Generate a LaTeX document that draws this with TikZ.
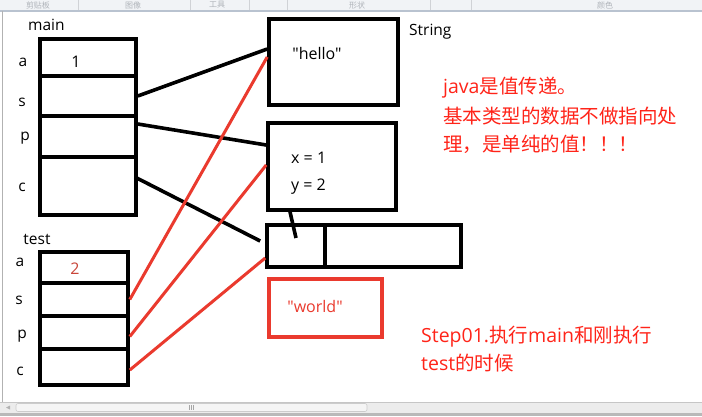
\documentclass[tikz,border=0pt]{standalone}
\usepackage{fontspec}
\setmainfont{Noto Sans CJK SC}
\newfontfamily\lat{Open Sans}
\usetikzlibrary{calc}
\definecolor{txtred}{HTML}{FF2419}
\definecolor{linered}{HTML}{EA3A2E}
\definecolor{numred}{HTML}{C9463A}
\definecolor{bandgray}{HTML}{F1F3F6}
\definecolor{bandline}{HTML}{B9C3D0}
\definecolor{faint}{HTML}{B0B4BA}
\begin{document}
\begin{tikzpicture}[x=1pt,y=-1pt,
  box/.style={draw=black,line width=3.6pt,rectangle,inner sep=0pt},
  redbox/.style={draw=linered,line width=3.4pt,rectangle,inner sep=0pt},
  blk/.style={draw=black,line width=3.6pt},
  redline/.style={draw=linered,line width=3pt},
  lbl/.style={inner sep=0pt,font=\lat\fontsize{15.5}{18}\selectfont},
  val/.style={inner sep=0pt,font=\lat\fontsize{16}{19}\selectfont},
  note/.style={inner sep=0pt,anchor=west,text=txtred,font=\fontsize{19.5}{22}\selectfont},
  tool/.style={inner sep=0pt,text=faint,font=\fontsize{8}{9}\selectfont}]
\useasboundingbox (0,0) rectangle (702,416);
\fill[white] (0,0) rectangle (702,416);
% window chrome
\fill[bandgray] (0,0) rectangle (702,10.5);
\draw[bandline,line width=1.2pt] (0,11) -- (702,11);
\begin{scope}
\clip (0,0) rectangle (702,10.5);
\node[tool] (t1) at (38,5) {剪贴板};
\node[tool] (t2) at (133,5) {图像};
\node[tool] (t3) at (217,5) {工具};
\node[tool] (t4) at (357,5) {形状};
\node[tool] (t5) at (605,5) {颜色};
\foreach \xx in {78,190,249,287,430,471} \draw[faint!60,line width=0.6pt] (\xx,0) -- (\xx,10);
\end{scope}
\draw[gray!60,line width=1pt] (2.5,11) -- (2.5,402);
\fill[gray!15] (0,402) rectangle (702,413);
\draw[gray!45,line width=0.8pt] (0,402) -- (702,402);
\draw[gray!40,fill=gray!8,rounded corners=2pt,line width=0.6pt] (16,403.5) rectangle (367,411.5);
\fill[gray!60] (10,405.5) -- (6,407.5) -- (10,409.5) -- cycle;
\foreach \xx in {189,191,193} \draw[gray!70,line width=0.5pt] (\xx,405) -- (\xx,410);
\fill[gray!55] (0,413) rectangle (702,416);
% main frame
\node[lbl,anchor=west] (mainlbl) at (28,25) {main};
\node[box,minimum width=96pt,minimum height=37pt] (ma) at (88,57.5) {};
\node[box,minimum width=96pt,minimum height=40pt] (ms) at (88,96) {};
\node[box,minimum width=96pt,minimum height=41pt] (mp) at (88,136.5) {};
\node[box,minimum width=96pt,minimum height=58pt] (mc) at (88,186) {};
\node[lbl] (la) at (23,62) {a};
\node[lbl] (ls) at (22,102) {s};
\node[lbl] (lp) at (25,138) {p};
\node[lbl] (lc) at (22,187) {c};
\node[val] (one) at (76,62) {1};
% test frame
\node[lbl] (testlbl) at (37,239) {test};
\node[box,minimum width=88pt,minimum height=31pt] (ta) at (84,267.5) {};
\node[box,minimum width=88pt,minimum height=33pt] (ts) at (84,299.5) {};
\node[box,minimum width=88pt,minimum height=33pt] (tp) at (84,332.5) {};
\node[box,minimum width=88pt,minimum height=36pt] (tc) at (84,367) {};
\node[lbl] (ta2) at (20,262) {a};
\node[lbl] (ts2) at (19,300) {s};
\node[lbl] (tp2) at (22,336) {p};
\node[lbl] (tc2) at (20,371) {c};
\node[val,text=numred] (two) at (75,269) {2};
% heap
\node[box,minimum width=129pt,minimum height=86pt] (hello) at (333.5,62) {};
\node[val] (hellotxt) at (317,53) {"hello"};
\node[lbl,anchor=west] (strlbl) at (409,32) {String};
\node[box,minimum width=128pt,minimum height=87pt] (point) at (332,166.5) {};
\node[val,anchor=west] (xv) at (291,158) {x = 1};
\node[val,anchor=west] (yv) at (291,187) {y = 2};
\node[box,minimum width=194pt,minimum height=42pt] (arr) at (364,246) {};
\coordinate (divtop) at (325,223);
\coordinate (divbot) at (325,269);
\draw[blk] (divtop) -- (divbot);
\coordinate (ptr) at (296,238);
\draw[blk] ([xshift=-42pt]point.south) -- (ptr);
\node[redbox,minimum width=113pt,minimum height=58pt] (world) at (325.5,308) {};
\node[val,text=linered] (worldtxt) at (315,306) {"world"};
% references from main
\draw[blk] (ms.east) -- ([yshift=13pt]hello.west);
\draw[blk] ([yshift=12.5pt]mp.east) -- ([yshift=21.5pt]point.west);
\draw[blk] ([xshift=-3pt,yshift=9pt]mc.east) -- ([xshift=-5pt,yshift=5pt]arr.west);
% references from test
\draw[redline] (ts.east) -- ([yshift=5pt]hello.west);
\draw[redline] ([yshift=-4pt]tp.east) -- ([yshift=1.5pt]point.west);
\draw[redline] ([yshift=-3pt]tc.east) -- ([yshift=-12pt]arr.west);
% notes
\node[note] (n1) at (443,88) {{\lat java}是值传递。};
\node[note] (n2) at (443,116.5) {基本类型的数据不做指向处};
\node[note] (n3) at (443,144) {理，是单纯的值！！！};
\node[note] (s1) at (421,337) {{\lat Step01.}执行{\lat main}和刚执行};
\node[note] (s2) at (421,363) {{\lat test}的时候};
\end{tikzpicture}
\end{document}
